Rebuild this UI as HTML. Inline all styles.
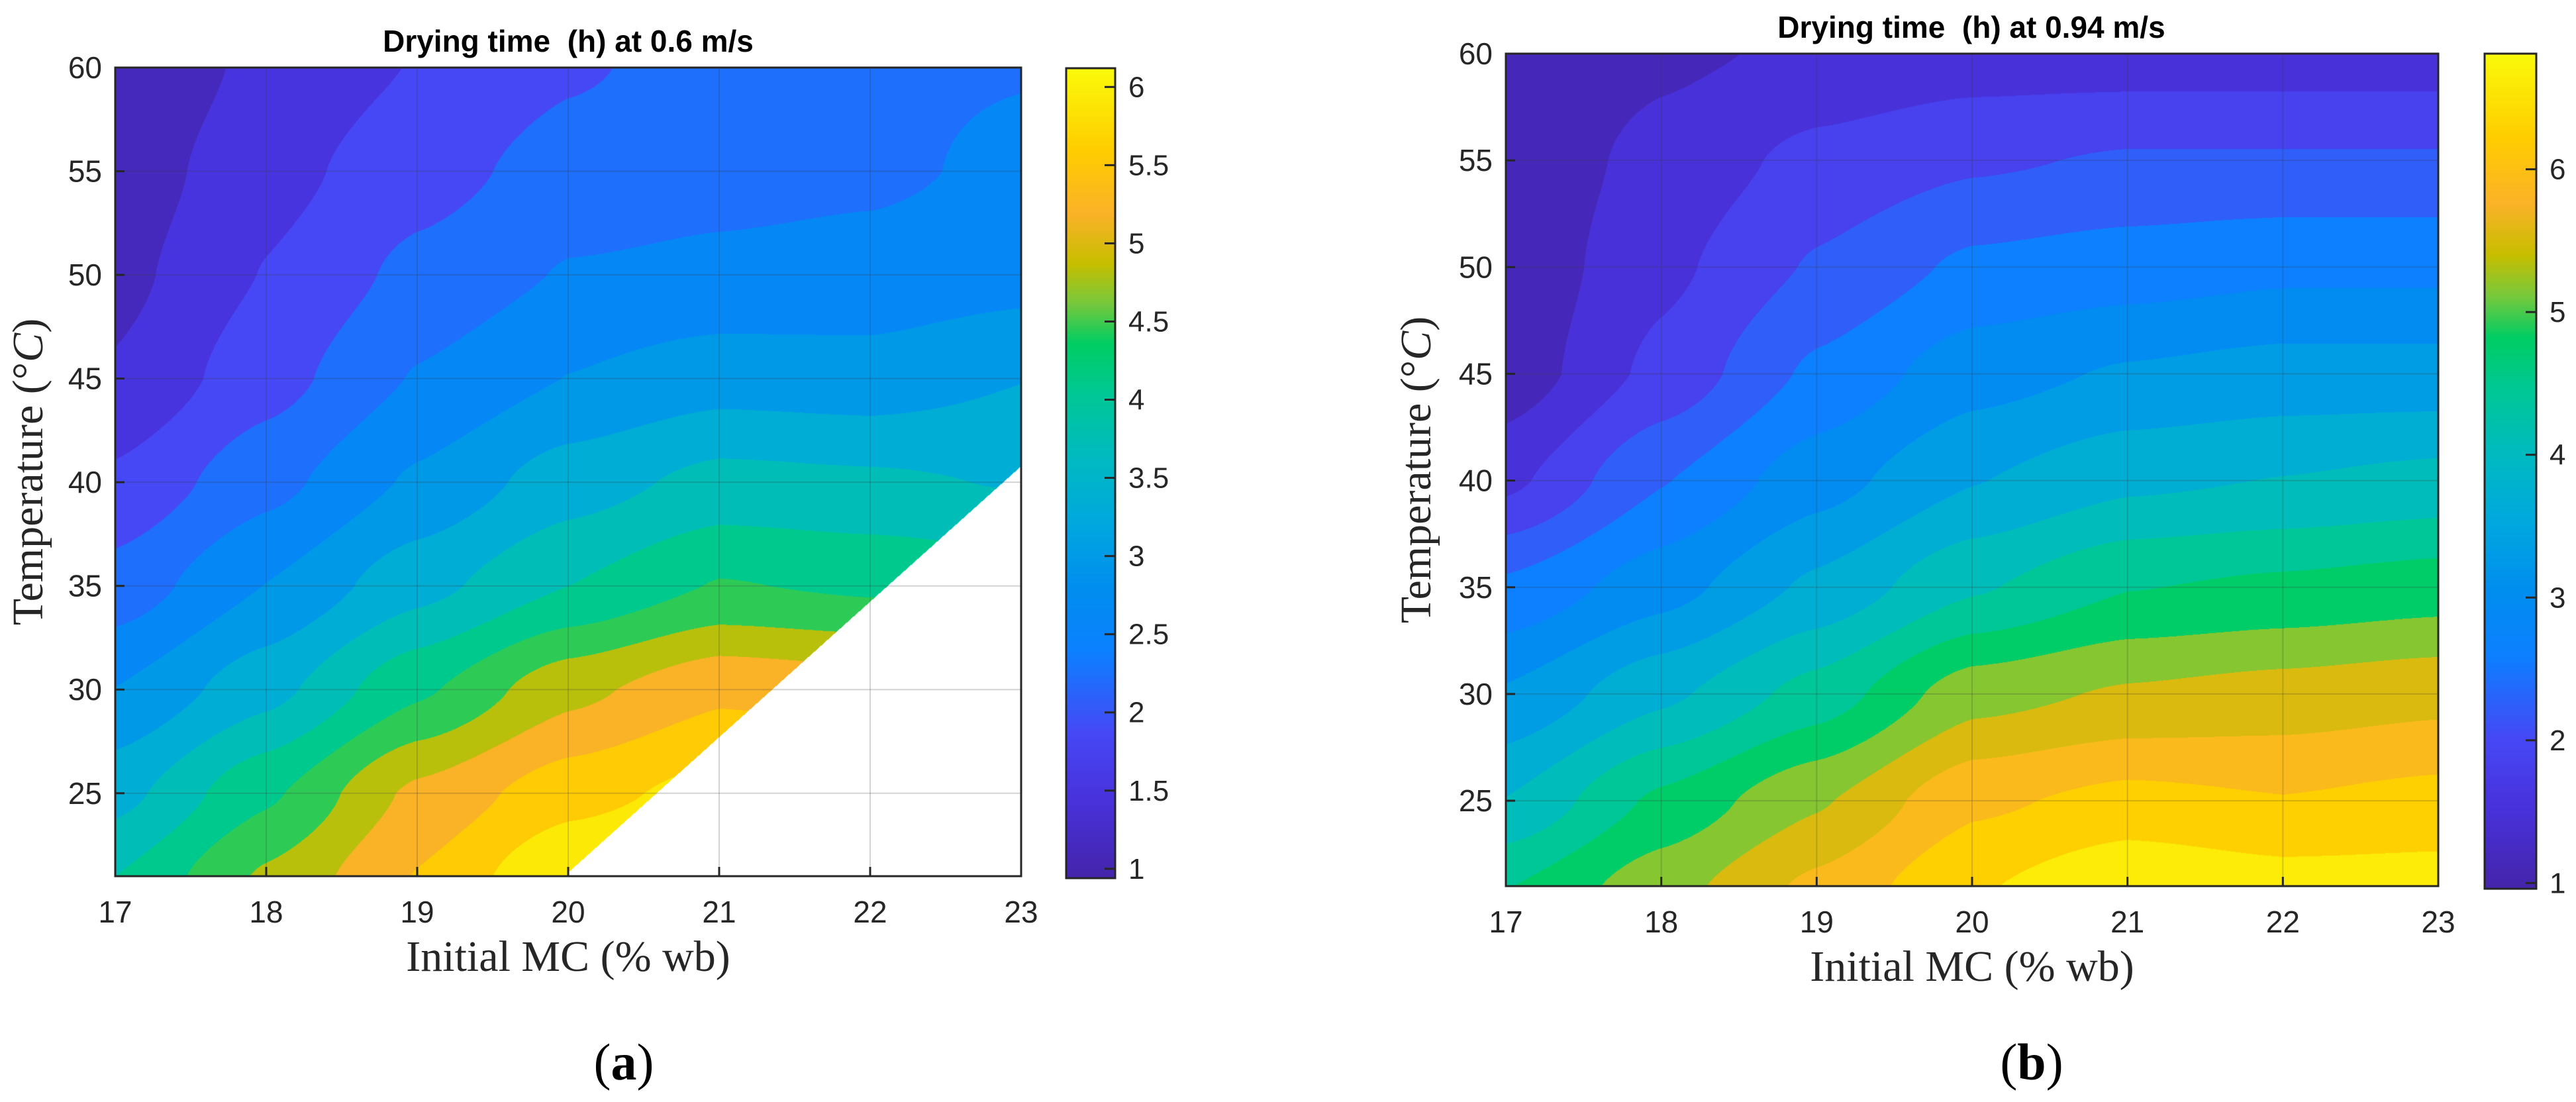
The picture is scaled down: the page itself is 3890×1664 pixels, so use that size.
<!DOCTYPE html>
<html><head><meta charset="utf-8"><style>
html,body{margin:0;padding:0;background:#fff;}
#root{position:relative;width:3890px;height:1664px;overflow:hidden;background:#fff;}
canvas{position:absolute;}
svg{position:absolute;left:0;top:0;}
</style></head><body>
<div id="root">
<canvas id="cA"></canvas>
<canvas id="cB"></canvas>
<canvas id="cbA"></canvas>
<canvas id="cbB"></canvas>
<svg id="ov" width="3890" height="1664"></svg>
</div>
<script>
// ---- data ----
const xGrid = [17,18,19,20,21,22,23];
const yGrid = [21,25,30,35,40,45,50,55,60];
const zA = [
 [3.9,4.7,5.4,6.1,6.3,6.3,6.3],
 [3.4,4.2,5.1,5.6,5.9,5.9,5.9],
 [2.8,3.4,4.2,4.9,5.3,5.2,5.2],
 [2.2,2.8,3.4,3.9,4.3,4.2,4.1],
 [1.75,2.3,2.85,3.35,3.65,3.6,3.5],
 [1.35,1.9,2.45,2.8,3.0,2.95,3.15],
 [1.2,1.7,2.15,2.45,2.5,2.55,2.65],
 [1.1,1.55,1.9,2.2,2.3,2.35,2.5],
 [1.0,1.4,1.7,2.0,2.2,2.35,2.4]
];
const zB = [
 [4.6,5.2,5.8,6.4,6.75,6.6,6.6],
 [3.9,4.7,5.3,6.0,6.2,6.1,6.2],
 [3.2,3.8,4.4,5.2,5.4,5.5,5.6],
 [2.5,3.0,3.6,4.2,4.6,4.7,4.8],
 [1.6,2.4,3.0,3.5,3.8,3.9,4.0],
 [1.1,1.8,2.5,3.0,3.2,3.3,3.3],
 [1.05,1.6,2.1,2.5,2.6,2.7,2.7],
 [1.05,1.45,1.8,2.0,2.1,2.1,2.1],
 [1.0,1.25,1.4,1.5,1.5,1.5,1.5]
];
// white (no data) region of panel a: below line through these points
const maskX = [20,23];
const maskY = [21.2,40.8];
const xTicks = [17,18,19,20,21,22,23];
const yTicks = [25,30,35,40,45,50,55,60];
const cbTicksA = [1,1.5,2,2.5,3,3.5,4,4.5,5,5.5,6];
const cbTicksB = [1,2,3,4,5,6];
const climA = [0.94,6.12];
const climB = [0.96,6.81];
const titleA = "Drying time\u00a0 (h) at 0.6 m/s";
const titleB = "Drying time\u00a0 (h) at 0.94 m/s";

// ---- layout ----
const P = {
 a:{l:174,t:102,r:1542,b:1323,cbl:1610,cbr:1684,cbt:103,cbb:1326,z:zA,clim:climA,cb:cbTicksA,levels:14,title:titleA,tx:858,ty:78,ylx:42,sub:"(a)",subx:942,mask:true,canvas:'cA',cbc:'cbA'},
 b:{l:2274,t:81,r:3682,b:1338,cbl:3752,cbr:3830,cbt:81,cbb:1342,z:zB,clim:climB,cb:cbTicksB,levels:16,title:titleB,tx:2977,ty:57,ylx:2138,sub:"(b)",subx:3068,mask:false,canvas:'cB',cbc:'cbB'}
};
const cmT=[0,0.1,0.18,0.28,0.36,0.44,0.52,0.6,0.66,0.71,0.76,0.82,0.9,1];
const cmC=[[68,36,170],[72,50,220],[70,72,246],[12,128,255],[0,142,238],[0,168,222],[0,186,192],[0,200,148],[0,205,100],[120,200,60],[200,190,0],[250,178,40],[255,205,0],[250,250,10]];
function cmap(t){t=Math.max(0,Math.min(1,t));let i=0;while(i<cmT.length-2&&t>cmT[i+1])i++;const u=(t-cmT[i])/(cmT[i+1]-cmT[i]);
 return cmC[i].map((c,k)=>Math.round(c+(cmC[i+1][k]-c)*u));}
function interp(z,x,y){
 let i=0;while(i<xGrid.length-2&&x>xGrid[i+1])i++;
 let j=0;while(j<yGrid.length-2&&y>yGrid[j+1])j++;
 const u=(x-xGrid[i])/(xGrid[i+1]-xGrid[i]),v=(y-yGrid[j])/(yGrid[j+1]-yGrid[j]);
 const s=u=>u*u*(3-2*u); const uu=u*0.5+s(u)*0.5, vv=v*0.5+s(v)*0.5;
 return z[j][i]*(1-uu)*(1-vv)+z[j][i+1]*uu*(1-vv)+z[j+1][i]*(1-uu)*vv+z[j+1][i+1]*uu*vv;}
const ymin=21,ymax=60,xmin=17,xmax=23;
const NS="http://www.w3.org/2000/svg";const ov=document.getElementById('ov');
function el(tag,attrs,text){const e=document.createElementNS(NS,tag);for(const k in attrs)e.setAttribute(k,attrs[k]);if(text!=null)e.textContent=text;ov.appendChild(e);return e;}
for(const key of ['a','b']){
 const p=P[key];const W=p.r-p.l,H=p.b-p.t;
 const sx=x=>p.l+(x-xmin)/(xmax-xmin)*W, sy=y=>p.b-(y-ymin)/(ymax-ymin)*H;
 const cv=document.getElementById(p.canvas);cv.width=W;cv.height=H;cv.style.left=p.l+'px';cv.style.top=p.t+'px';
 const ctx=cv.getContext('2d');const img=ctx.createImageData(W,H);
 const lo=p.clim[0],hi=p.clim[1],step=(hi-lo)/p.levels;
 for(let py=0;py<H;py++){const y=ymax-(py/H)*(ymax-ymin);
  for(let px=0;px<W;px++){const x=xmin+(px/W)*(xmax-xmin);const o=(py*W+px)*4;
   if(p.mask){const my=maskY[0]+(x-maskX[0])/(maskX[1]-maskX[0])*(maskY[1]-maskY[0]);if(x>=maskX[0]&&y<my){img.data[o]=255;img.data[o+1]=255;img.data[o+2]=255;img.data[o+3]=255;continue;}}
   const z=interp(p.z,x,y);let k=Math.floor((z-lo)/step);k=Math.max(0,Math.min(p.levels-1,k));
   const c=cmap((k+0.5)/p.levels);img.data[o]=c[0];img.data[o+1]=c[1];img.data[o+2]=c[2];img.data[o+3]=255;}}
 ctx.putImageData(img,0,0);
 const cb=document.getElementById(p.cbc);const CW=p.cbr-p.cbl,CH=p.cbb-p.cbt;cb.width=CW;cb.height=CH;cb.style.left=p.cbl+'px';cb.style.top=p.cbt+'px';
 const c2=cb.getContext('2d');for(let i=0;i<CH;i++){const c=cmap(1-i/CH);c2.fillStyle=`rgb(${c})`;c2.fillRect(0,i,CW,1);}
 const cy=v=>p.cbb-(v-lo)/(hi-lo)*CH;
 el('rect',{x:p.cbl,y:p.cbt,width:CW,height:CH,fill:'none',stroke:'#262626','stroke-width':3,});
 for(const v of p.cb){const yy=cy(v);
  el('line',{x1:p.cbr-16,x2:p.cbr,y1:yy,y2:yy,stroke:'#262626','stroke-width':3,});
  el('text',{x:p.cbr+20,y:yy+15,'font-family':'Liberation Sans, sans-serif','font-size':44,fill:'#262626',},String(v));}
 for(const t of xTicks){if(t===xmin||t===xmax)continue;el('line',{x1:sx(t),x2:sx(t),y1:p.t,y2:p.b,stroke:'rgba(60,60,60,0.22)','stroke-width':2,});}
 for(const t of yTicks){if(t===ymax)continue;el('line',{x1:p.l,x2:p.r,y1:sy(t),y2:sy(t),stroke:'rgba(60,60,60,0.22)','stroke-width':2,});}
 el('rect',{x:p.l,y:p.t,width:W,height:H,fill:'none',stroke:'#262626','stroke-width':3,});
 for(const t of xTicks){const xx=sx(t);
  el('line',{x1:xx,x2:xx,y1:p.b,y2:p.b-14,stroke:'#262626','stroke-width':3,});
  el('text',{x:xx,y:p.b+70,'text-anchor':'middle','font-family':'Liberation Sans, sans-serif','font-size':46,fill:'#262626',},String(t));}
 for(const t of yTicks){const yy=sy(t);
  el('line',{x1:p.l,x2:p.l+14,y1:yy,y2:yy,stroke:'#262626','stroke-width':3,});
  el('text',{x:p.l-20,y:yy+16,'text-anchor':'end','font-family':'Liberation Sans, sans-serif','font-size':46,fill:'#262626',},String(t));}
 el('text',{x:p.tx,y:p.ty,'text-anchor':'middle','font-family':'Liberation Sans, sans-serif','font-weight':'bold','font-size':46,fill:'#000',},p.title);
 el('text',{x:(p.l+p.r)/2,y:p.b+143,'text-anchor':'middle','font-family':'Liberation Serif, serif','font-size':66,fill:'#262626',},"Initial MC (% wb)");
 const yl=el('text',{x:0,y:0,'text-anchor':'middle','font-family':'Liberation Serif, serif','font-size':66,fill:'#262626',transform:`translate(${p.ylx+22},${(p.t+p.b)/2}) rotate(-90)`,});
 yl.innerHTML='Temperature (°<tspan font-style="italic">C</tspan>)';
 el('text',{x:p.subx,y:1630,'text-anchor':'middle','font-family':'Liberation Serif, serif','font-size':78,fill:'#000',}).innerHTML=`(<tspan font-weight="bold">${key}</tspan>)`;
}
</script>
</body></html>
